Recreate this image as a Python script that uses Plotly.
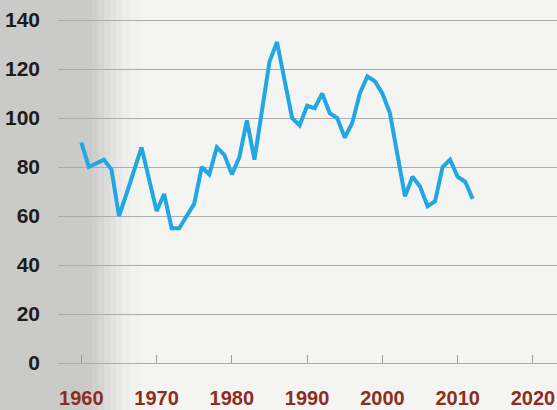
import plotly.graph_objects as go

years = list(range(1960, 2013))
values = [90, 80, 81.5, 83, 79, 60, 69, 78, 88, 75,
          62, 69, 55, 55, 60, 65, 80, 77, 88, 85,
          77, 84, 99, 83, 103, 123, 131, 115, 100, 97,
          105, 104, 110, 102, 100, 92, 98, 110, 117, 115,
          110, 102, 85, 68, 76, 72, 64, 66, 80, 83,
          76, 74, 67]

x_ticks = [1960, 1970, 1980, 1990, 2000, 2010, 2020]
y_ticks = [0, 20, 40, 60, 80, 100, 120, 140]

FONT = "Liberation Sans, Arial, sans-serif"

fig = go.Figure()
fig.add_trace(go.Scatter(
    x=years, y=values, mode="lines",
    line=dict(color="#22a7e4", width=4),
    hoverinfo="skip", showlegend=False,
))

# photographic paper shading (left grey band)
W, H = 557, 410
L, R, T, B = 58, 0, 10, 47
pw, ph = W - L - R, H - T - B
def px(xp):
    return (xp - L) / pw
def py(yp):
    return (H - B - yp) / ph

shades = [(0, 92, "#cacac8"), (92, 98, "#cfcfcd"), (98, 104, "#d5d5d3"),
          (104, 110, "#dbdbd9"), (110, 116, "#e2e2e0"), (116, 122, "#e8e8e6"),
          (122, 130, "#eeeeec"), (130, 140, "#f1f1ef")]
for x0, x1, c in shades:
    fig.add_shape(type="rect", xref="paper", yref="paper",
                  x0=px(x0), x1=px(x1), y0=py(H), y1=py(0),
                  fillcolor=c, line_width=0, layer="below")

fig.update_layout(
    width=W, height=H,
    margin=dict(l=L, r=R, t=T, b=B),
    paper_bgcolor="#f4f4f2",
    plot_bgcolor="rgba(0,0,0,0)",
    showlegend=False,
    xaxis=dict(
        range=[1956.9, 2023.2],
        tickvals=x_ticks, ticktext=[str(v) for v in x_ticks],
        ticks="inside", ticklen=8, tickwidth=1, tickcolor="#9a9a9a",
        showgrid=False, zeroline=False,
        showline=True, linecolor="#acacac", linewidth=1.3,
        automargin=False,
        tickfont=dict(family=FONT, size=20, color="#8e2d1c", weight="bold"),
        ticklabelstandoff=17,
        ticklabeloverflow="allow",
    ),
    yaxis=dict(
        range=[0, 144.08],
        tickvals=y_ticks, ticktext=[str(v) for v in y_ticks],
        showgrid=True, gridcolor="#acacac", gridwidth=1.3,
        zeroline=False, showline=False, ticks="", automargin=False,
        tickfont=dict(family=FONT, size=21, color="#1c1c1c", weight="bold"),
        ticklabelstandoff=17,
    ),
)

fig.write_html("out.html", config={"displayModeBar": False},
               post_script="document.body.style.margin='0';document.body.style.overflow='hidden';")
